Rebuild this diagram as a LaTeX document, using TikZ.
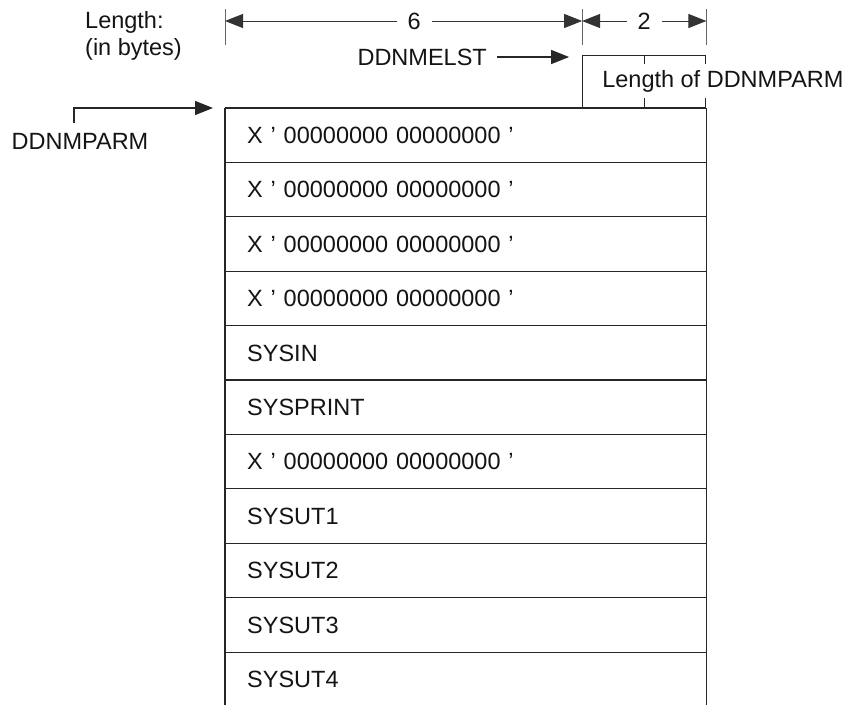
\documentclass[tikz,border=0pt]{standalone}
\usepackage{fontspec}
\setmainfont{Liberation Sans}
\usetikzlibrary{arrows.meta,positioning,calc}

\begin{document}
\begin{tikzpicture}[x=1pt, y=-1pt,
  font=\fontsize{23.5}{27}\selectfont, text=black!92,
  cell/.style={anchor=north west, minimum width=481pt, minimum height=54.4pt,
    inner xsep=22pt, inner ysep=0pt, text width=437pt, align=left},
  frame/.style={draw=black!85, line width=1.3pt},
  tick/.style={draw=black!60, line width=1pt},
  tip/.style={-{Triangle[length=18pt, width=14pt]}},
  dim/.style={tip, draw=black!80, line width=1pt},
  ptr/.style={tip, draw=black!85, line width=1.2pt},
  dimlbl/.style={inner xsep=11pt, inner ysep=2pt}]
\useasboundingbox (0,0) rectangle (853,705);
% parameter list rows
\foreach \txt [count=\i] in {X ’ 00000000 00000000 ’, X ’ 00000000 00000000 ’,
    X ’ 00000000 00000000 ’, X ’ 00000000 00000000 ’, SYSIN, SYSPRINT,
    X ’ 00000000 00000000 ’, SYSUT1, SYSUT2, SYSUT3, SYSUT4}
  \node[cell] (row\i) at (225,{108+(\i-1)*54.4}) {\txt};
\foreach \i in {1,...,10} \draw[frame] (row\i.north west) -- (row\i.north east);
\draw[frame] (row10.south west) -- (row10.south east);
\draw[frame] (row1.north west) -- (row11.west |- 0,705);
\draw[frame] (row1.north east) -- (row11.east |- 0,705);
% length field of DDNMELST
\node[frame, anchor=south east, minimum width=123pt, minimum height=52pt, inner sep=0pt] (lenbox) at (row1.north east) {};
\draw[frame, line width=1pt] (lenbox.north) -- (lenbox.south);
\node[fill=white, anchor=west, inner xsep=3pt, inner ysep=6pt] (lenlbl) at ([xshift=17pt]lenbox.west) {Length of DDNMPARM};
% dimension line
\coordinate (dimy) at (0,21);
\coordinate (d0) at (row1.north west |- dimy);
\coordinate (d1) at (lenbox.north west |- dimy);
\coordinate (d2) at (lenbox.north east |- dimy);
\foreach \d in {d0,d1,d2} \draw[tick] ([yshift=12pt]\d) -- ([yshift=-24pt]\d);
\node[dimlbl] (six) at ($(d0)!0.53!(d1)$) {6};
\node[dimlbl] (two) at ($(d1)!0.5!(d2)$) {2};
\draw[dim] (six) -- (d0);
\draw[dim] (six) -- (d1);
\draw[dim] (two) -- (d1);
\draw[dim] (two) -- (d2);
\node[anchor=north west, inner sep=0pt, align=left] (lenhdr) at (85,11) {Length:\\(in bytes)};
% pointers
\node[anchor=east, inner sep=0pt] (elst) at (487,57) {DDNMELST};
\draw[ptr, shorten <=10pt, shorten >=13pt] (elst.east) -- (elst.east -| lenbox.west);
\node[inner sep=0pt] (parm) at (80,141) {DDNMPARM};
\draw[ptr, shorten >=12pt] ([shift={(-6,-10)}]parm.north) |- (row1.north west);
\end{tikzpicture}
\end{document}
